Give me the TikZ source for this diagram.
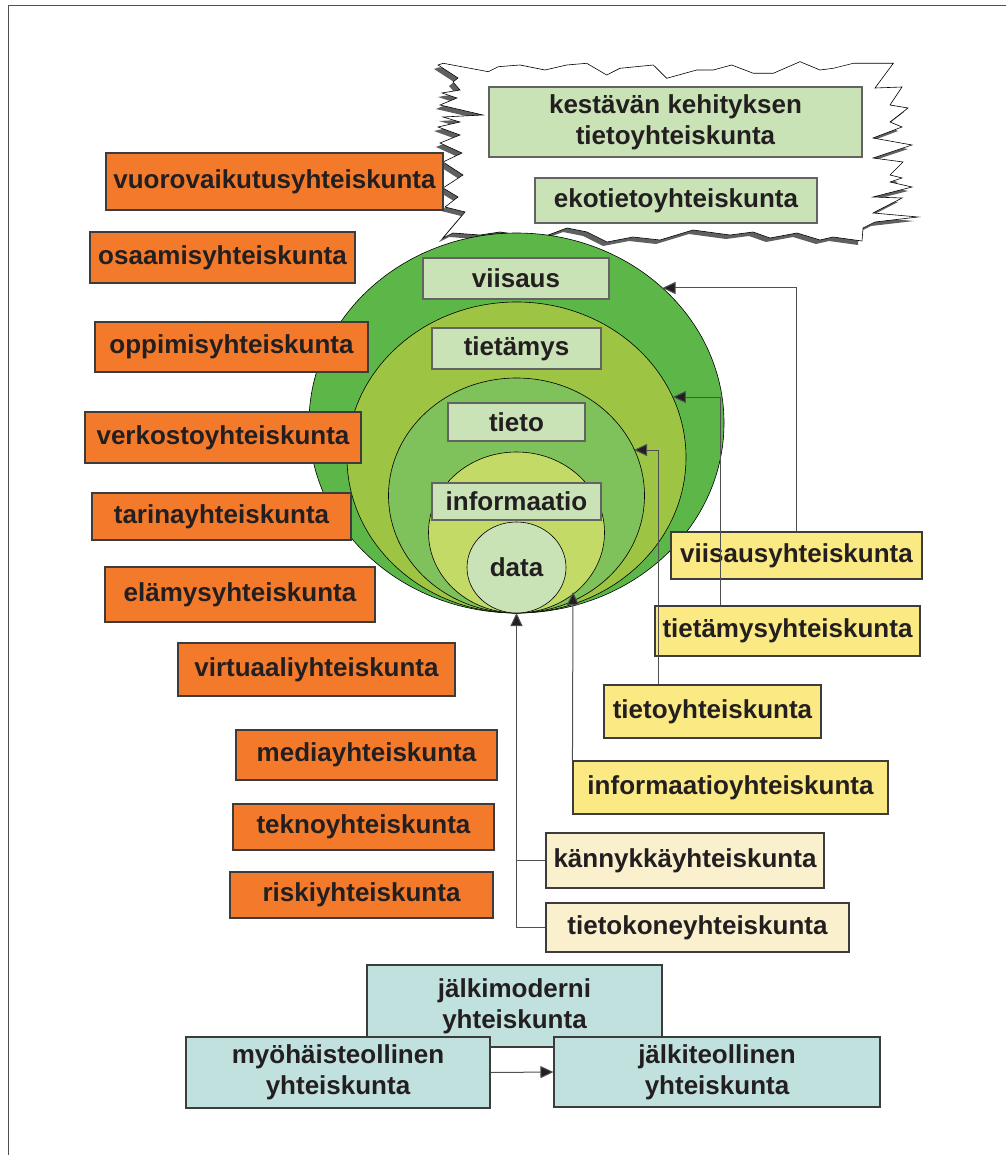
\documentclass[tikz,border=0pt]{standalone}
\usepackage{fontspec}
\setmainfont{Liberation Sans}
\usetikzlibrary{arrows.meta,shapes.geometric}

\definecolor{ink}{HTML}{231F20}
\definecolor{boxline}{HTML}{3C3C3C}
\definecolor{connline}{HTML}{505050}
\definecolor{orangebox}{HTML}{F47A2B}
\definecolor{greenA}{HTML}{5DB748}
\definecolor{greenB}{HTML}{9DC543}
\definecolor{greenC}{HTML}{7FC15B}
\definecolor{greenD}{HTML}{C3DA66}
\definecolor{palegreen}{HTML}{C9E3B7}
\definecolor{yellowbox}{HTML}{FBEA83}
\definecolor{creambox}{HTML}{FAF0CD}
\definecolor{tealbox}{HTML}{C1E1DF}
\definecolor{shadowgray}{HTML}{5E6160}

\begin{document}
\begin{tikzpicture}[x=1pt,y=-1pt,
  box/.style={draw=boxline, line width=1.1pt, inner sep=0pt, align=center,
    text=ink, font=\fontsize{26}{31}\selectfont\bfseries},
  orange/.style={box, fill=orangebox},
  pale/.style={box, fill=palegreen, draw=boxline!80},
  yellow/.style={box, fill=yellowbox},
  cream/.style={box, fill=creambox},
  teal/.style={box, fill=tealbox},
  sz/.style args={#1x#2}{minimum width=#1pt, minimum height=#2pt},
  ring/.style={draw=black, line width=0.6pt},
  conn/.style={draw=connline, line width=1pt, -{Triangle[length=13pt,width=12pt,fill=ink]}},
  plain/.style={draw=connline, line width=1pt}]

\useasboundingbox (0,0) rectangle (1006,1155);
\fill[white] (0,0) rectangle (1006,1155);

% page frame (top and left edges)
\draw[connline, line width=1pt] (8,1155) -- (8,6) -- (1006,6);

% jagged "explosion" outline with its grey extrusion
\def\cloudpath{(443.3,63.3) -- (488.3,71.7) -- (498.3,66.7) -- (520,65) -- (545,70)
  -- (566.7,65) -- (586.7,63.3) -- (606.7,75) -- (620,68.3) -- (653.3,65)
  -- (666.7,78.3) -- (696.7,70) -- (713.3,70) -- (731.7,65) -- (753.3,73.3)
  -- (773.3,73.3) -- (800,61.7) -- (820,70) -- (833.3,68.3) -- (853.3,63.3)
  -- (893.3,63.3) -- (875,88) -- (902,87) -- (890,105) -- (908,108) -- (890,122)
  -- (902,127) -- (873,138) -- (912,145) -- (873,158) -- (903,162) -- (890,175)
  -- (902,178) -- (890,182) -- (912,187) -- (873,197) -- (902,198) -- (873,213)
  -- (918,217) -- (875,222) -- (863,228) -- (862,241) -- (833,237) -- (820,240)
  -- (797,233) -- (770,238) -- (753,232) -- (730,235) -- (693,230) -- (660,240)
  -- (633,237) -- (607,242) -- (587,232) -- (567,228) -- (543,237) -- (520,235)
  -- (500,232) -- (480,235) -- (453,233) -- (443,238) -- (465,212) -- (445,207)
  -- (458,197) -- (443,188) -- (463,175) -- (443,162) -- (462,153) -- (440,143)
  -- (460,135) -- (438,127) -- (460,122) -- (443,117) -- (483,115) -- (440,105)
  -- (457,98) -- (442,93) -- (460,90) -- (453,82) -- (458,78) -- (438,65) -- cycle}
\begin{scope}[shift={(-4,4)}]
  \fill[shadowgray] \cloudpath;
\end{scope}
\filldraw[fill=white, draw=black, line width=0.6pt] \cloudpath;

\node[pale, sz=373x70] (kest) at (675.5,122) {kestävän kehityksen\\tietoyhteiskunta};
\node[pale, sz=282x45] (eko) at (676,200.5) {ekotietoyhteiskunta};

% nested layers, all touching at the bottom point
\draw[ring, fill=greenA] (516.5,423) ellipse [x radius=207.5, y radius=190];
\draw[ring, fill=greenB] (516.5,457.5) ellipse [x radius=169.5, y radius=155.5];
\draw[ring, fill=greenC] (516.5,495.5) ellipse [x radius=128, y radius=117.5];
\draw[ring, fill=greenD] (516.5,532.5) ellipse [x radius=88, y radius=80.5];
\node[ellipse, ring, fill=palegreen, inner sep=0pt, text=ink,
  font=\fontsize{26}{31}\selectfont\bfseries,
  minimum width=99pt, minimum height=91pt] (data) at (516.5,567.5) {data};

\node[pale, sz=186x41] (viisaus) at (516,278.5) {viisaus};
\node[pale, sz=169x41] (tietamys) at (516.5,348.5) {tietämys};
\node[pale, sz=137x38] (tieto) at (516.5,422) {tieto};
\node[pale, sz=169x37] (informaatio) at (516.5,501.5) {informaatio};

% arrow tips on the layer outlines
\coordinate (tipA) at (662.5,288);
\coordinate (tipB) at (672.9,397);
\coordinate (tipC) at (634,450);
\coordinate (tipD) at (573,592);
\coordinate (tipE) at (516.5,613);

% left column
\node[orange, sz=337x57] (vuoro) at (274.5,181.5) {vuorovaikutusyhteiskunta};
\node[orange, sz=265x51] (osaamis) at (222.5,257.5) {osaamisyhteiskunta};
\node[orange, sz=273x50] (oppimis) at (231.5,347) {oppimisyhteiskunta};
\node[orange, sz=276x51] (verkosto) at (223,437.5) {verkostoyhteiskunta};
\node[orange, sz=259x47] (tarina) at (221.5,516.5) {tarinayhteiskunta};
\node[orange, sz=270x55] (elamys) at (240,594.5) {elämysyhteiskunta};
\node[orange, sz=277x53] (virtuaali) at (316.5,669.5) {virtuaaliyhteiskunta};
\node[orange, sz=261x50] (media) at (366.5,755) {mediayhteiskunta};
\node[orange, sz=261x46] (tekno) at (363.5,827) {teknoyhteiskunta};
\node[orange, sz=263x46] (riski) at (361.5,895) {riskiyhteiskunta};

% right column
\node[yellow, sz=251x47] (viisY) at (796.5,555.5) {viisausyhteiskunta};
\node[yellow, sz=265x50] (tietamysY) at (787.5,631) {tietämysyhteiskunta};
\node[yellow, sz=217x53] (tietoY) at (712.5,711.5) {tietoyhteiskunta};
\node[yellow, sz=315x53] (infoY) at (730.5,787.5) {informaatioyhteiskunta};
\node[cream, sz=278x55] (kannY) at (685,860.5) {kännykkäyhteiskunta};
\node[cream, sz=303x49] (koneY) at (697.5,927.5) {tietokoneyhteiskunta};

% connectors into the layers
\draw[conn] (viisY.north) |- (tipA);
\draw[conn] ([xshift=-67.5pt]tietamysY.north) |- (tipB);
\draw[conn] ([xshift=-54.5pt]tietoY.north) |- (tipC);
\draw[conn] (infoY.north west) -- (tipD);
\draw[conn] (koneY.west) -| (tipE);
\draw[plain] (kannY.west) -- (kannY.west -| tipE);

% bottom group
\node[teal, sz=295x82] (jmod) at (514.5,1006) {jälkimoderni\\yhteiskunta};
\node[teal, sz=304x71] (myoh) at (338,1072.5) {myöhäisteollinen\\yhteiskunta};
\node[teal, sz=326x70] (jteol) at (717,1072) {jälkiteollinen\\yhteiskunta};
\draw[conn] (myoh.east) -- (jteol.west);

\end{tikzpicture}
\end{document}
